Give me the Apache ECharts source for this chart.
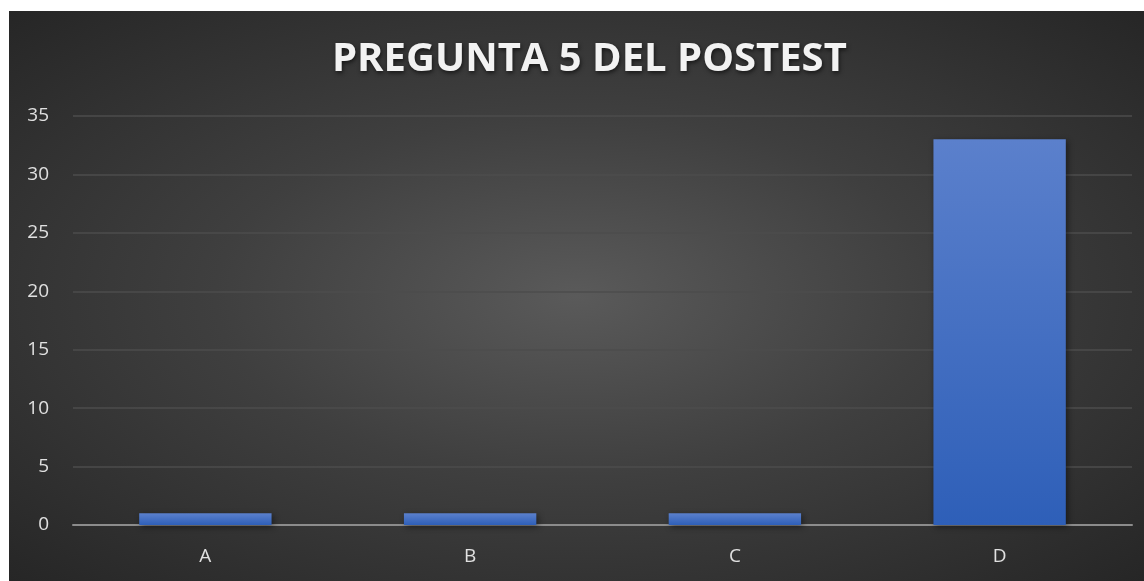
<!DOCTYPE html>
<html>
<head>
<meta charset="utf-8">
<style>
  html, body { margin: 0; padding: 0; background: #fff; }
  #main {
    position: absolute; left: 9px; top: 11px; width: 1135px; height: 570px;
    background: radial-gradient(ellipse at 50% 50%, #5a5a5a 0%, #3f3f3f 45%, #262626 100%);
  }
</style>
<script src="https://cdn.jsdelivr.net/npm/echarts@6/dist/echarts.min.js"></script>
</head>
<body>
<div id="main"></div>
<script>
  // respuestas y conteos
  var categories = ['A', 'B', 'C', 'D']
  var counts = [1, 1, 1, 33]
  var yTicks = { min: 0, max: 35, interval: 5 }

  var chart = echarts.init(document.getElementById('main'))
  chart.setOption({
    title: {
      text: 'PREGUNTA 5 DEL POSTEST',
      left: 318,
      top: 24,
      textStyle: {
        color: '#f2f2f2',
        fontFamily: 'Open Sans',
        fontWeight: 'bold',
        fontSize: 40,
        textShadowColor: 'rgba(0,0,0,0.6)',
        textShadowBlur: 4,
        textShadowOffsetX: 1,
        textShadowOffsetY: 2
      }
    },
    grid: {
      left: 64,
      right: 12,
      top: 105,
      bottom: 56
    },
    xAxis: {
      type: 'category',
      data: categories,
      axisTick: { show: false },
      axisLine: { lineStyle: { color: '#8c8c8c', width: 2 } },
      axisLabel: { color: '#e0e0e0', fontSize: 19, fontFamily: 'Open Sans', margin: 22 }
    },
    yAxis: {
      type: 'value',
      min: yTicks.min,
      max: yTicks.max,
      interval: yTicks.interval,
      axisLine: { show: false },
      axisTick: { show: false },
      splitLine: { lineStyle: { color: '#4d4d4d', width: 1.5 } },
      axisLabel: { color: '#e0e0e0', fontSize: 19, fontFamily: 'Open Sans', margin: 24 }
    },
    series: [{
      type: 'bar',
      data: counts,
      barWidth: '50%',
      animation: false,
      itemStyle: {
        color: new echarts.graphic.LinearGradient(0, 0, 0, 1, [
          { offset: 0, color: '#5b80cc' },
          { offset: 1, color: '#2e5fb8' }
        ]),
        shadowColor: 'rgba(0,0,0,0.45)',
        shadowBlur: 6,
        shadowOffsetX: 2,
        shadowOffsetY: 2
      }
    }]
  })
</script>
</body>
</html>
